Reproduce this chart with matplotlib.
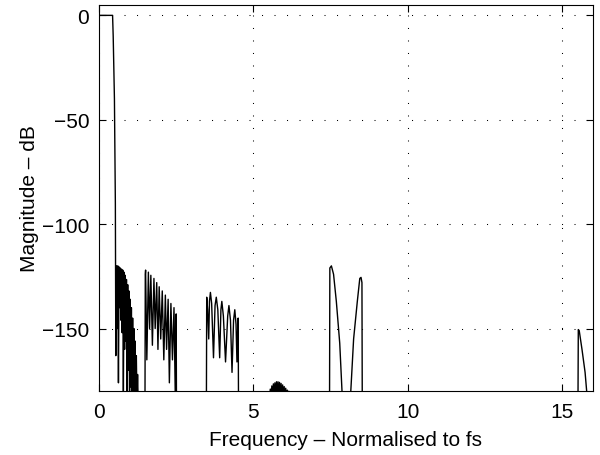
#!/usr/bin/env python3
"""Magnitude response of a multi-stage decimation filter, MATLAB style."""

import numpy as np
import matplotlib
matplotlib.use('Agg')
import matplotlib.pyplot as plt

plt.rcParams['font.family'] = ['Liberation Sans', 'DejaVu Sans']

# Values, band by band (freq, dB)
PASS_F = [0.0, 0.44, 0.46, 0.50, 0.53, 0.545]
PASS_DB = [0.0, 0.0, -10.0, -40.0, -90.0, -163.0]

BAND_A_F = [0.55, 0.57, 0.59, 0.61, 0.63, 0.65, 0.67, 0.69, 0.71, 0.73,
            0.75, 0.77, 0.79, 0.81, 0.83, 0.85, 0.87, 0.89, 0.91, 0.93,
            0.95, 0.97, 0.99, 1.01, 1.03, 1.05, 1.07, 1.09, 1.11, 1.13,
            1.15, 1.17, 1.19, 1.21, 1.23, 1.25, 1.27]
BAND_A_DB = [-121, -120, -150, -120, -176, -120.5, -140, -121, -146, -121.5,
             -152, -122, -181, -123, -160, -124.5, -156, -126.5, -181, -129,
             -170, -132, -185, -136, -178, -140, -185, -145, -185, -150,
             -185, -156, -185, -163, -185, -172, -185]

BAND_B_F = [1.49, 1.50, 1.51, 1.55, 1.60, 1.64, 1.68, 1.73, 1.78, 1.82,
            1.87, 1.91, 1.95, 2.00, 2.05, 2.10, 2.15, 2.19, 2.24, 2.28,
            2.33, 2.38, 2.43, 2.47, 2.50, 2.51]
BAND_B_DB = [-185, -124, -122, -165, -123, -150, -124.5, -158, -126, -150,
             -128, -160, -130, -155, -132, -165, -134, -160, -136, -176,
             -138, -165, -140, -181, -143, -185]

BAND_C_F = [3.48, 3.49, 3.52, 3.555, 3.58, 3.61, 3.65, 3.71, 3.76, 3.80,
            3.85, 3.91, 3.95, 3.98, 4.03, 4.10, 4.17, 4.21, 4.26, 4.31,
            4.36, 4.40, 4.44, 4.47, 4.50, 4.51, 4.52]
BAND_C_DB = [-185, -135, -141, -155, -137, -132.7, -138, -164, -139, -135,
             -141, -164, -141, -137, -144, -166, -144, -139, -146, -171,
             -146, -141, -148, -166, -146, -145, -185]

BAND_D_F = [5.52, 5.55, 5.57, 5.60, 5.62, 5.65, 5.67, 5.70, 5.72, 5.75,
            5.77, 5.80, 5.82, 5.85, 5.87, 5.90, 5.92, 5.95, 5.97, 6.00,
            6.02, 6.05, 6.07, 6.10, 6.12, 6.15, 6.17]
BAND_D_DB = [-185, -179, -185, -177.5, -185, -176.5, -185, -176, -185, -175.5,
             -185, -175.5, -185, -175.8, -185, -176.3, -185, -177, -185, -177.8,
             -185, -178.6, -185, -179.5, -185, -180, -185]

BAND_E_F = [7.47, 7.48, 7.53, 7.60, 7.69, 7.80, 7.89,
            8.14, 8.25, 8.37, 8.45, 8.49, 8.52, 8.53]
BAND_E_DB = [-185, -121, -120, -124, -137, -157, -185,
             -185, -155, -137, -126, -125.5, -128, -185]

BAND_F_F = [15.52, 15.53, 15.56, 15.65, 15.75, 15.83]
BAND_F_DB = [-185, -150.5, -151, -160, -171, -185]

X_TICKS = [0, 5, 10, 15]
Y_TICKS = [-150, -100, -50, 0]


def main():
    fig = plt.figure(figsize=(6.0, 4.56), dpi=100)
    ax = fig.add_axes([0.165, 0.140, 0.823, 0.847])

    bands = [
        (PASS_F + BAND_A_F, PASS_DB + BAND_A_DB),
        (BAND_B_F, BAND_B_DB),
        (BAND_C_F, BAND_C_DB),
        (BAND_D_F, BAND_D_DB),
        (BAND_E_F, BAND_E_DB),
        (BAND_F_F, BAND_F_DB),
    ]
    for freq, mag in bands:
        ax.plot(np.array(freq), np.array(mag), color='black', linewidth=1.0)

    ax.set_xlim(0, 16)
    ax.set_ylim(-180, 5)
    ax.set_xticks(X_TICKS)
    ax.set_yticks(Y_TICKS)
    ax.set_yticklabels([f"\u2212{-v}" if v < 0 else str(v) for v in Y_TICKS])

    ax.grid(True, color='black', linestyle=(0, (1, 11)), linewidth=0.75)
    ax.tick_params(direction='in', length=5, width=0.8, top=True, right=True,
                   labelsize=15)
    ax.tick_params(axis='x', pad=8)
    ax.tick_params(axis='y', pad=7)
    for spine in ax.spines.values():
        spine.set_linewidth(0.8)

    ax.set_xlabel('Frequency \u2013 Normalised to fs', fontsize=15, labelpad=6)
    ax.set_ylabel('Magnitude \u2013 dB', fontsize=15, labelpad=2)

    fig.savefig('out.png', dpi=100)


if __name__ == "__main__":
    main()
